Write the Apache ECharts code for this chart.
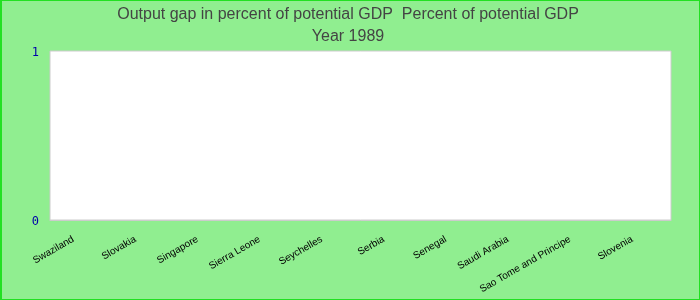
<!DOCTYPE html>
<html>
<head>
<meta charset="utf-8">
<script src="https://cdn.jsdelivr.net/npm/echarts@6/dist/echarts.min.js"></script>
<style>
html,body{margin:0;padding:0;background:#90EE90;}
#chart{width:700px;height:300px;box-sizing:border-box;border:1px solid #22e022;border-left-width:2px;}
</style>
</head>
<body>
<div id="chart"></div>
<script>
var categories = ['Swaziland','Slovakia','Singapore','Sierra Leone','Seychelles','Serbia','Senegal','Saudi Arabia','Sao Tome and Principe','Slovenia'];
var values = [null,null,null,null,null,null,null,null,null,null];
var yTicks = [0, 1];
var titleText = 'Output gap in percent of potential GDP  Percent of potential GDP';
var subtitleText = 'Year 1989';

var chart = echarts.init(document.getElementById('chart'), null, {renderer:'canvas'});
chart.setOption({
  backgroundColor: '#90EE90',
  animation: false,
  title: {
    text: titleText + '\n' + subtitleText,
    left: 341, top: -2, textAlign: 'center',
    textStyle: {fontFamily: 'Liberation Sans, Arial', fontSize: 16, fontWeight: 'normal', color: '#444', lineHeight: 22}
  },
  grid: {left: 48, right: 28, top: 50, bottom: 79, show: true, backgroundColor: '#fff', borderColor: '#ccc', borderWidth: 1, outerBoundsMode: 'none', containLabel: false},
  xAxis: {
    type: 'category', data: categories,
    axisLine: {show: true, lineStyle: {color: '#ccc'}},
    axisTick: {show: false},
    axisLabel: {interval: 0, rotate: 30, fontSize: 10, color: '#000', fontFamily: 'Liberation Sans, Arial', margin: 14, padding: [0, 9, 0, 0]}
  },
  yAxis: {
    type: 'value', min: yTicks[0], max: yTicks[yTicks.length-1], interval: 1,
    axisLine: {show: false}, axisTick: {show: false}, splitLine: {show: false},
    axisLabel: {color: '#0000aa', fontSize: 12, fontFamily: 'DejaVu Sans Mono', margin: 11,
      formatter: '{v|{value}}', rich: {v: {color: '#0000aa', fontSize: 12, fontFamily: 'DejaVu Sans Mono', padding: [4, 0, 0, 0]}}}
  },
  series: [{type: 'bar', data: values, itemStyle: {color: '#4472c4'}}]
});
</script>
</body>
</html>
